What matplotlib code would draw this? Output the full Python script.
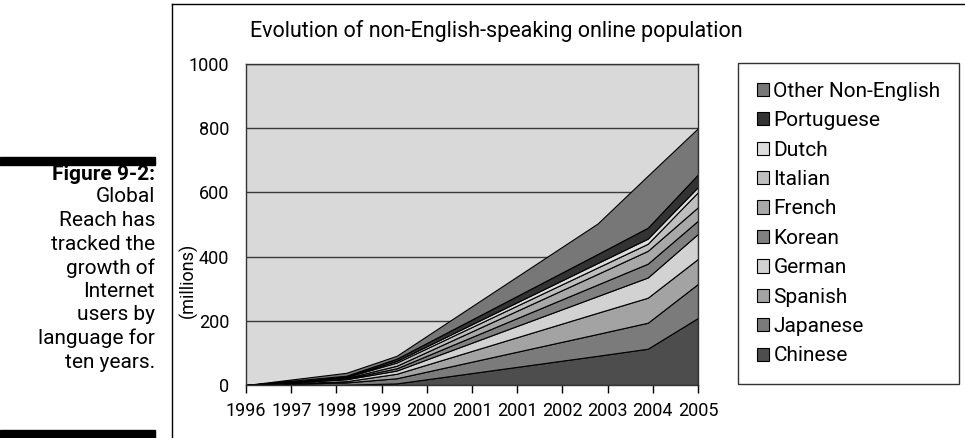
import matplotlib.pyplot as plt
import numpy as np
from matplotlib.patches import Rectangle
from matplotlib.lines import Line2D

plt.rcParams['font.family'] = ['Roboto', 'DejaVu Sans']

# data points (years) and stacked layers, in millions
years = [1996, 1998, 1999, 2003, 2004, 2005]
chinese = [0, 1, 5, 91, 113, 209]
japanese = [0, 7, 16, 68, 81, 106]
spanish = [0, 4, 14, 66, 78, 78]
german = [0, 6, 10, 52, 63, 78]
korean = [0, 2, 7, 36, 43, 41]
french = [0, 2, 8, 33, 40, 42]
italian = [0, 3, 10, 20, 22, 47]
dutch = [0, 2, 5, 14, 16, 16]
portuguese = [0, 2, 7, 28, 34, 39]
other = [0, 9, 9, 95, 162, 144]

names = ['Chinese', 'Japanese', 'Spanish', 'German', 'Korean', 'French',
         'Italian', 'Dutch', 'Portuguese', 'Other Non-English']
layers = [chinese, japanese, spanish, german, korean, french,
          italian, dutch, portuguese, other]
colors = ['#4d4d4d', '#7b7b7b', '#a3a3a3', '#d2d2d2', '#808080', '#a8a8a8',
          '#bebebe', '#dddddd', '#333333', '#777777']

tick_labels = ['1996', '1997', '1998', '1999', '2000', '2001', '2001',
               '2002', '2003', '2004', '2005']

fig = plt.figure(figsize=(9.65, 4.38), dpi=100)

# left caption panel
fig.add_artist(Rectangle((0, 1 - 165 / 438), 155 / 965, 8 / 438,
                         transform=fig.transFigure, color='black'))
fig.add_artist(Rectangle((0, 0), 155 / 965, 8 / 438,
                         transform=fig.transFigure, color='black'))
fig.add_artist(Line2D([172 / 965, 172 / 965], [0, 1 - 4 / 438],
                      transform=fig.transFigure, color='black', lw=1))
fig.add_artist(Line2D([172 / 965, 1], [1 - 4 / 438, 1 - 4 / 438],
                      transform=fig.transFigure, color='black', lw=1))

caption = ['Global', 'Reach has', 'tracked the', 'growth of', 'Internet',
           'users by', 'language for', 'ten years.']
fig.text(155 / 965, 1 - 174 / 438, 'Figure 9-2:', ha='right', va='center',
         fontsize=15, fontweight='bold')
for i, line in enumerate(caption):
    fig.text(155 / 965, 1 - (197 + i * 23.6) / 438, line, ha='right',
             va='center', fontsize=15)

# chart
ax = fig.add_axes([246 / 965, 53 / 438, 452 / 965, 321 / 438])
ax.set_facecolor('#d9d9d9')
polys = ax.stackplot(years, *layers, colors=colors, edgecolor='black',
                     linewidth=0.8, labels=names)
ax.set_xlim(1996, 2005)
ax.set_ylim(0, 1000)
ax.set_yticks([0, 200, 400, 600, 800, 1000])
ax.set_xticks(np.linspace(1996, 2005, 11))
ax.set_xticklabels(tick_labels)
ax.yaxis.grid(True, color='#3a3a3a', linewidth=1)
ax.set_axisbelow(True)
ax.tick_params(axis='x', direction='out', length=6, width=1, labelsize=13,
               pad=6)
ax.tick_params(axis='y', length=0, labelsize=13, pad=12)
for s in ax.spines.values():
    s.set_color('#333333')
    s.set_linewidth(1)
fig.text(188 / 965, 1 - 280 / 438, '(millions)', rotation=90, ha='center',
         va='center', fontsize=13)

fig.text(250 / 965, 1 - 31 / 438,
         'Evolution of non-English-speaking online population',
         ha='left', va='center', fontsize=15.5)

handles, labels = ax.get_legend_handles_labels()
leg = fig.legend(handles[::-1], labels[::-1], loc='upper left',
                 bbox_to_anchor=(738 / 965, 1 - 63 / 438), fontsize=15,
                 frameon=True, fancybox=False, edgecolor='black',
                 handlelength=0.6, handleheight=0.6, handletextpad=0.2,
                 labelspacing=0.5, borderpad=0.9, borderaxespad=0)
leg.get_frame().set_linewidth(1)

fig.savefig('out.png', dpi=100)
